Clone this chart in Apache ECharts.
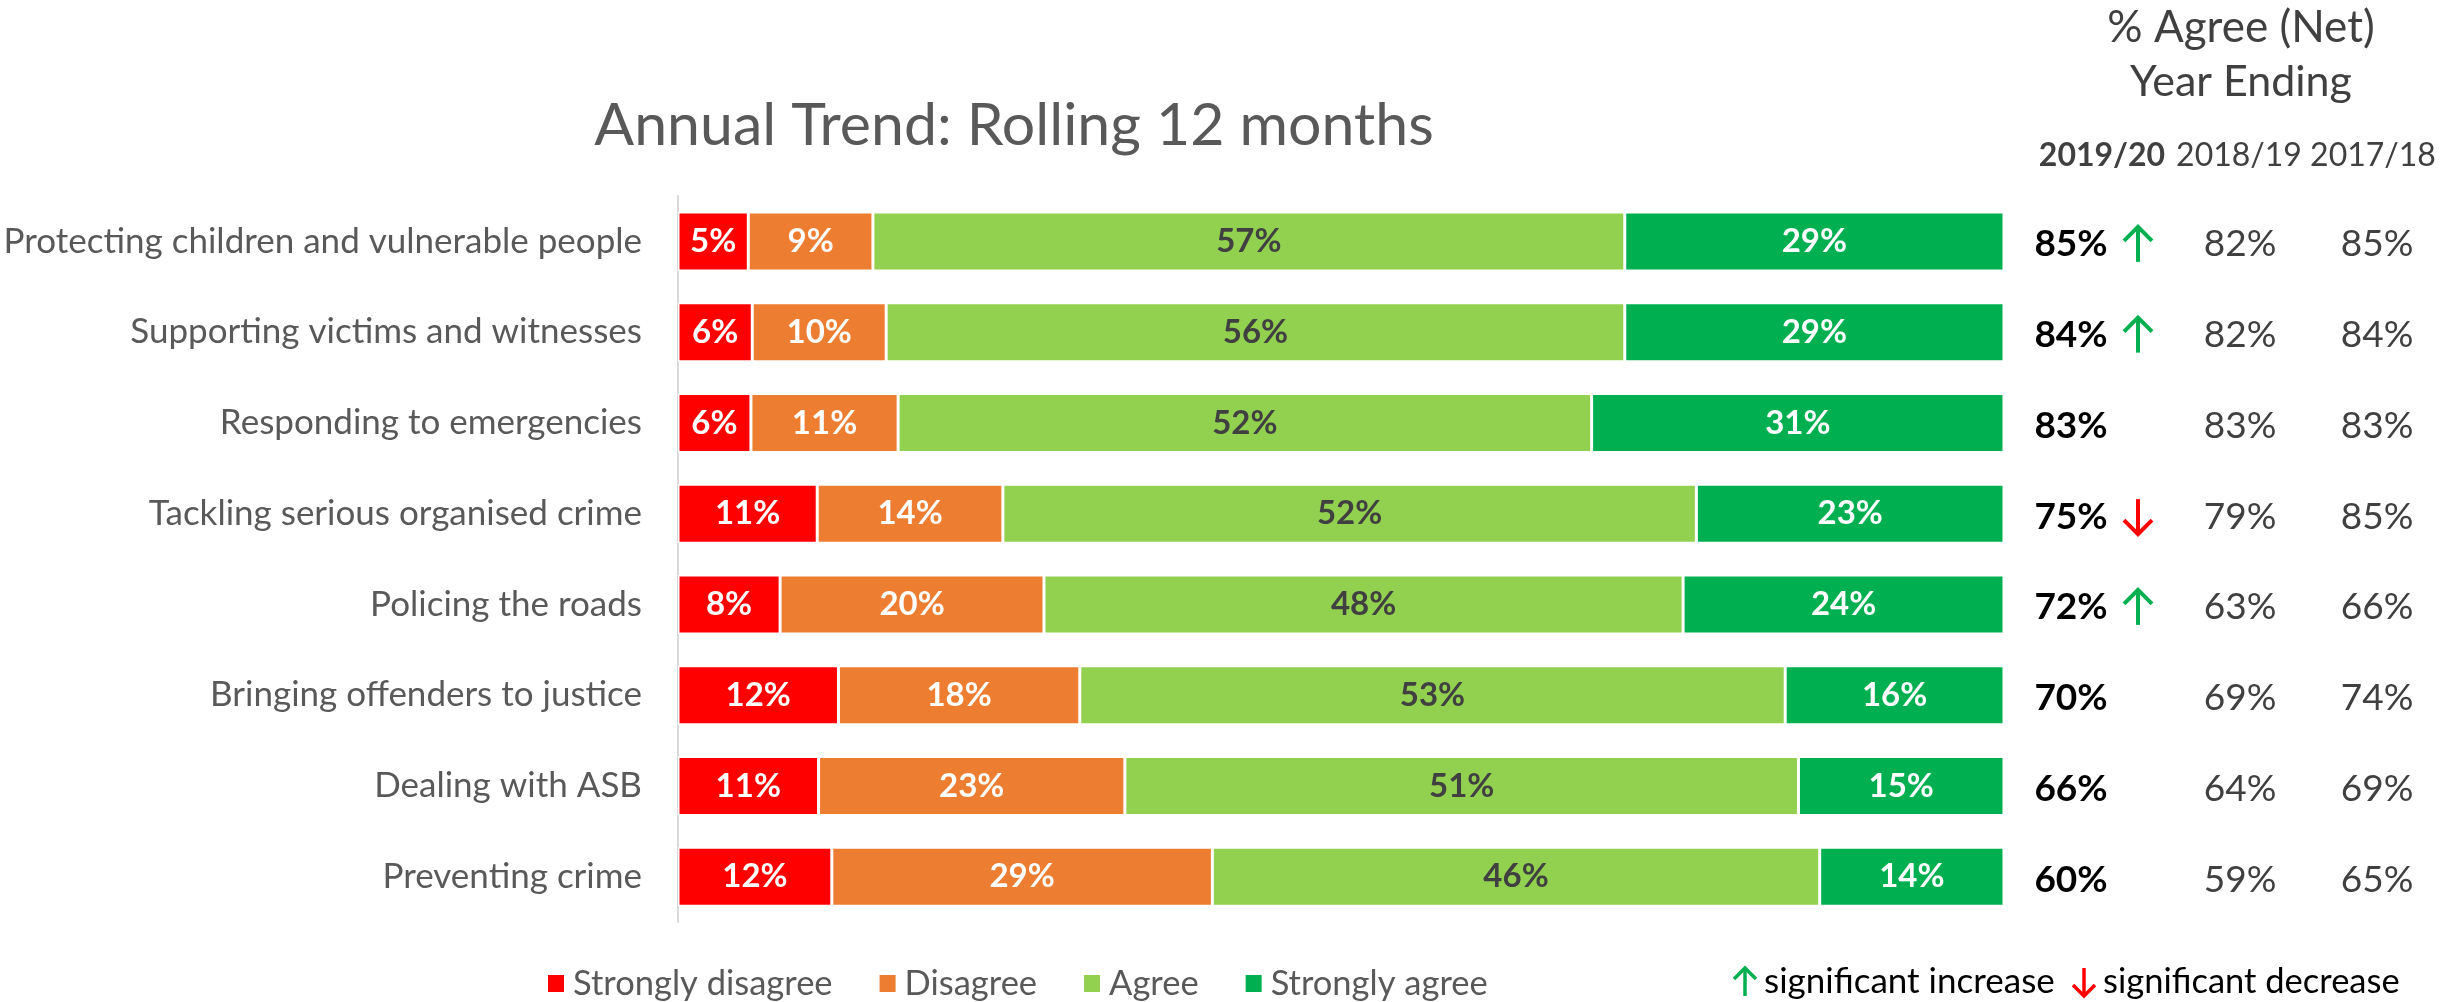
<!DOCTYPE html>
<html>
<head>
<meta charset="utf-8">
<title>Annual Trend: Rolling 12 months</title>
<script src="https://cdn.jsdelivr.net/npm/echarts@6/dist/echarts.min.js"></script>
<style>
  html, body { margin: 0; padding: 0; background: #fff; }
  #chart { width: 2443px; height: 1002px; }
</style>
</head>
<body>
<div id="chart"></div>
<script>
// categories, top to bottom
const categories = [
  "Protecting children and vulnerable people",
  "Supporting victims and witnesses",
  "Responding to emergencies",
  "Tackling serious organised crime",
  "Policing the roads",
  "Bringing offenders to justice",
  "Dealing with ASB",
  "Preventing crime"
];

// segment widths (unrounded shares)
const strongDisagree = [5.3, 5.6, 5.5, 10.5, 7.7, 12.1, 10.6, 11.6];
const disagree       = [9.4, 10.1, 11.1, 14.0, 19.9, 18.2, 23.1, 28.7];
const agree          = [56.7, 55.7, 52.3, 52.3, 48.2, 53.2, 50.8, 45.8];
const strongAgree    = [28.6, 28.6, 31.1, 23.2, 24.2, 16.5, 15.5, 13.9];

// labels printed on the bars
const strongDisagreeLbl = [5, 6, 6, 11, 8, 12, 11, 12];
const disagreeLbl       = [9, 10, 11, 14, 20, 18, 23, 29];
const agreeLbl          = [57, 56, 52, 52, 48, 53, 51, 46];
const strongAgreeLbl    = [29, 29, 31, 23, 24, 16, 15, 14];

// % agree (net), year ending
const yearHeaders = ["2019/20", "2018/19", "2017/18"];
const net1920 = [85, 84, 83, 75, 72, 70, 66, 60];
const net1819 = [82, 82, 83, 79, 63, 69, 64, 59];
const net1718 = [85, 84, 83, 85, 66, 74, 69, 65];
const sigChange = ["up", "up", "", "down", "up", "", "", ""];

const FONT = "Lato, 'Open Sans', sans-serif";
const UP = "#00B050";
const DOWN = "#FF0000";

const chart = echarts.init(document.getElementById("chart"));

function barSeries(name, values, labels, color, labelColor) {
  return {
    name: name,
    type: "bar",
    stack: "total",
    barWidth: 59,
    data: values,
    itemStyle: { color: color, borderColor: "#fff", borderWidth: 1.5 },
    label: {
      show: true,
      position: "inside",
      fontFamily: FONT,
      fontWeight: "bold",
      fontSize: 33,
      color: labelColor,
      formatter: p => labels[p.dataIndex] + "%"
    },
    emphasis: { disabled: true }
  };
}

function arrowShape(x, y, dir, color, h, w, lw) {
  const top = y - h / 2, bot = y + h / 2;
  const head = dir === "up"
    ? [[x - w / 2, top + w / 2], [x, top], [x + w / 2, top + w / 2]]
    : [[x - w / 2, bot - w / 2], [x, bot], [x + w / 2, bot - w / 2]];
  return [
    { type: "polyline", shape: { points: [[x, top], [x, bot]] },
      style: { stroke: color, lineWidth: lw, fill: null } },
    { type: "polyline", shape: { points: head },
      style: { stroke: color, lineWidth: lw, fill: null, lineJoin: "miter" } }
  ];
}

// table to the right of the bars, placed by the category axis
const tableSeries = {
  type: "custom",
  data: net1920.map((v, i) => [100, i]),
  encode: { x: 0, y: 1 },
  silent: true,
  renderItem: (params, api) => {
    const i = api.value(1);
    const p = api.coord([api.value(0), i]);
    const x0 = p[0], y = p[1] + 3;
    const children = [
      { type: "text", x: x0 + 67, y: y,
        style: { text: net1920[i] + "%", fill: "#000", fontFamily: FONT, fontWeight: "bold",
                 fontSize: 37, align: "center", verticalAlign: "middle" } },
      { type: "text", x: x0 + 236, y: y,
        style: { text: net1819[i] + "%", fill: "#404040", fontFamily: FONT,
                 fontSize: 37, align: "center", verticalAlign: "middle" } },
      { type: "text", x: x0 + 373, y: y,
        style: { text: net1718[i] + "%", fill: "#404040", fontFamily: FONT,
                 fontSize: 37, align: "center", verticalAlign: "middle" } }
    ];
    if (sigChange[i]) {
      const c = sigChange[i] === "up" ? UP : DOWN;
      arrowShape(x0 + 134, y, sigChange[i], c, 35, 28, 4).forEach(e => children.push(e));
    }
    return { type: "group", children: children };
  }
};

const headerText = (text, x, y, size, bold) => ({
  type: "text", x: x, y: y,
  style: { text: text, fill: "#404040", fontFamily: FONT, fontSize: size,
           fontWeight: bold ? "bold" : "normal", align: "center", verticalAlign: "middle" }
});

const legendKey = []
  .concat(arrowShape(1745, 982, "up", UP, 28, 22, 3.5))
  .concat([{ type: "text", x: 1764, y: 982,
    style: { text: "significant increase", fill: "#000", fontFamily: FONT, fontSize: 35,
             align: "left", verticalAlign: "middle" } }])
  .concat(arrowShape(2084, 982, "down", DOWN, 28, 22, 3.5))
  .concat([{ type: "text", x: 2103, y: 982,
    style: { text: "significant decrease", fill: "#000", fontFamily: FONT, fontSize: 34.5,
             align: "left", verticalAlign: "middle" } }]);

chart.setOption({
  animation: false,
  textStyle: { fontFamily: FONT },
  title: {
    text: "Annual Trend: Rolling 12 months",
    left: 1009,
    top: 91,
    textAlign: "center",
    textStyle: { fontFamily: FONT, fontSize: 59, fontWeight: "normal", color: "#595959" }
  },
  legend: {
    data: ["Strongly disagree", "Disagree", "Agree", "Strongly agree"],
    left: 541,
    top: 961,
    icon: "rect",
    itemWidth: 18,
    itemHeight: 19,
    itemGap: 45,
    selectedMode: false,
    textStyle: { fontFamily: FONT, fontSize: 34.5, color: "#595959", padding: [0, 0, 0, 3] }
  },
  grid: { left: 678, right: 439, top: 196, bottom: 80, containLabel: false },
  xAxis: { type: "value", min: 0, max: 100, show: false },
  yAxis: {
    type: "category",
    inverse: true,
    data: categories,
    axisLine: { show: true, lineStyle: { color: "#d9d9d9", width: 2 } },
    axisTick: { show: false },
    axisLabel: { fontFamily: FONT, fontSize: 35, color: "#595959", margin: 36 }
  },
  graphic: [
    headerText("% Agree (Net)", 2241, 28, 44, false),
    headerText("Year Ending", 2241, 82, 43, false),
    headerText(yearHeaders[0], 2102, 156, 32, true),
    headerText(yearHeaders[1], 2239, 156, 32, false),
    headerText(yearHeaders[2], 2373, 156, 32, false)
  ].concat(legendKey),
  series: [
    barSeries("Strongly disagree", strongDisagree, strongDisagreeLbl, "#FF0000", "#fff"),
    barSeries("Disagree", disagree, disagreeLbl, "#ED7D31", "#fff"),
    barSeries("Agree", agree, agreeLbl, "#92D050", "#404040"),
    barSeries("Strongly agree", strongAgree, strongAgreeLbl, "#00B050", "#fff"),
    tableSeries
  ]
});
</script>
</body>
</html>
